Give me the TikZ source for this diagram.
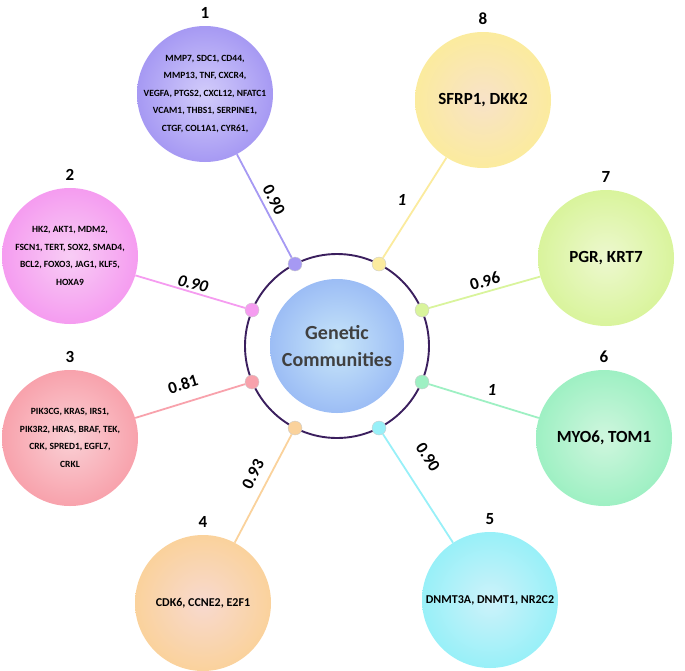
\documentclass[tikz,border=0pt]{standalone}
\usepackage{fontspec}
\setmainfont{Carlito}
\usepackage{tikz}
\usetikzlibrary{positioning}
\definecolor{com1}{HTML}{A699F3}\definecolor{com1in}{HTML}{D2CCFA}
\definecolor{com2}{HTML}{F59CF0}\definecolor{com2in}{HTML}{F8CDF5}
\definecolor{com3}{HTML}{F8A2AC}\definecolor{com3in}{HTML}{FAD0D5}
\definecolor{com4}{HTML}{FAD29C}\definecolor{com4in}{HTML}{F8D9CF}
\definecolor{com5}{HTML}{98F0F8}\definecolor{com5in}{HTML}{CDF2FA}
\definecolor{com6}{HTML}{9EF0C3}\definecolor{com6in}{HTML}{CFF6DE}
\definecolor{com7}{HTML}{D9F49C}\definecolor{com7in}{HTML}{EDF8CF}
\definecolor{com8}{HTML}{FBEB9E}\definecolor{com8in}{HTML}{F8E2C8}
\definecolor{gc}{HTML}{9CBDF5}\definecolor{gcin}{HTML}{C8E6F9}
\definecolor{ringc}{HTML}{3B1F5E}

\begin{document}
\begin{tikzpicture}[
  x=1pt, y=-1pt,
  font=\bfseries,
  com/.style={circle, minimum size=136pt, inner sep=0pt, inner color=#1in, outer color=#1},
  num/.style={font=\fontsize{17}{17}\selectfont\bfseries, label distance=4pt},
  genes/.style={font=\fontsize{9.5}{17.5}\selectfont\bfseries, align=center},
  mid/.style={font=\fontsize{12}{14}\selectfont\bfseries},
  big/.style={font=\fontsize{17}{18}\selectfont\bfseries},
  dot/.style={circle, minimum size=14pt, inner sep=0pt, fill=#1, draw=black!20, line width=0.4pt},
  ln/.style={draw=#1, line width=1.8pt},
  wt/.style={font=\fontsize{17}{17}\selectfont\bfseries, inner sep=1pt},
  wti/.style={font=\fontsize{17}{17}\selectfont\bfseries\itshape, inner sep=1pt}
]
\useasboundingbox (0,0) rectangle (685,670);
% centre
\node[circle, minimum size=134pt, inner sep=0pt, inner color=gcin, outer color=gc, text=black!75, align=center, font=\fontsize{20}{27}\selectfont\bfseries] (gc) at (337,346) {Genetic\\Communities};
\draw[ringc, line width=1.9pt] (gc) circle (92);
% dots on the ring
\node[dot=com1] (d1) at (295,264) {};
\node[dot=com2] (d2) at (252,310) {};
\node[dot=com3] (d3) at (252,382) {};
\node[dot=com4] (d4) at (295,428) {};
\node[dot=com5] (d5) at (379,428) {};
\node[dot=com6] (d6) at (422,382) {};
\node[dot=com7] (d7) at (422,310) {};
\node[dot=com8] (d8) at (379,264) {};
% communities
\node[com=com1, label={[num]above:1}, label={[genes]center:{MMP7, SDC1, CD44,\\MMP13, TNF, CXCR4,\\VEGFA, PTGS2, CXCL12, NFATC1\\VCAM1, THBS1, SERPINE1,\\CTGF, COL1A1, CYR61,}}] (c1) at (205,94) {};
\node[com=com2, label={[num]above:2}, label={[genes]center:{HK2, AKT1, MDM2,\\FSCN1, TERT, SOX2, SMAD4,\\BCL2, FOXO3, JAG1, KLF5,\\HOXA9}}] (c2) at (70,256) {};
\node[com=com3, label={[num]above:3}, label={[genes]center:{PIK3CG, KRAS, IRS1,\\PIK3R2, HRAS, BRAF, TEK,\\CRK, SPRED1, EGFL7,\\CRKL}}] (c3) at (70,438) {};
\node[com=com4, label={[num]above:4}, label={[mid]center:CDK6, CCNE2, E2F1}] (c4) at (203,603) {};
\node[com=com5, label={[num]above:5}, label={[mid]center:DNMT3A, DNMT1, NR2C2}] (c5) at (490,600) {};
\node[com=com6, label={[num]above:6}, label={[big]center:MYO6, TOM1}] (c6) at (604,438) {};
\node[com=com7, label={[num]above:7}, label={[big]center:PGR, KRT7}] (c7) at (606,258) {};
\node[com=com8, label={[num]above:8}, label={[big]center:SFRP1, DKK2}] (c8) at (483,100) {};
% links
\draw[ln=com1] (d1) -- (c1);
\draw[ln=com2] (d2) -- (c2);
\draw[ln=com3] (d3) -- (c3);
\draw[ln=com4] (d4) -- (c4);
\draw[ln=com5] (d5) -- (c5);
\draw[ln=com6] (d6) -- (c6);
\draw[ln=com7] (d7) -- (c7);
\draw[ln=com8] (d8) -- (c8);
% weights
\node[wt, rotate=-63] (w1) at (274,200) {0.90};
\node[wti, rotate=-14] (w2) at (193,284) {0.90};
\node[wt, rotate=17] (w3) at (183,384) {0.81};
\node[wt, rotate=63] (w4) at (253,474) {0.93};
\node[wt, rotate=-57] (w5) at (428,457) {0.90};
\node[wti] (w6) at (492,390) {1};
\node[wt, rotate=16] (w7) at (485,281) {0.96};
\node[wti] (w8) at (402,200) {1};
\end{tikzpicture}
\end{document}
